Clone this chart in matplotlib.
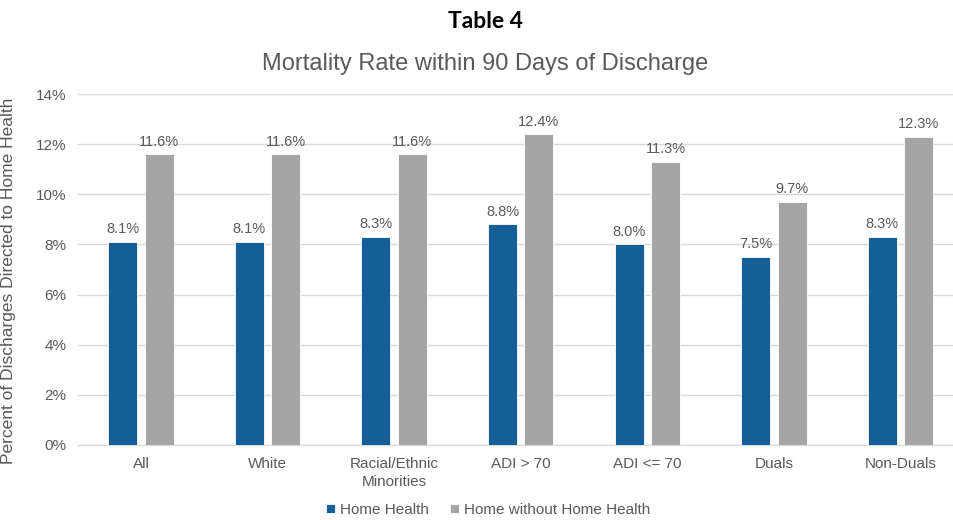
import numpy as np
import matplotlib.pyplot as plt
from matplotlib.ticker import FuncFormatter, MultipleLocator

# Mortality rate within 90 days of discharge, percent
categories = ["All", "White", "Racial/Ethnic\nMinorities", "ADI > 70",
              "ADI <= 70", "Duals", "Non-Duals"]
home_health = [8.1, 8.1, 8.3, 8.8, 8.0, 7.5, 8.3]
home_without_hh = [11.6, 11.6, 11.6, 12.4, 11.3, 9.7, 12.3]
series_names = ["Home Health", "Home without Home Health"]

BLUE = "#155F98"
GRAY = "#A5A5A5"
TEXT = "#595959"

plt.rcParams["font.family"] = ["Liberation Sans", "DejaVu Sans"]

fig = plt.figure(figsize=(9.54, 5.2), dpi=100)
# axes runs a little past the right edge, like the source sheet
ax = fig.add_axes([77.7 / 954, 75 / 520, 886 / 954, 351 / 520])

x = np.arange(len(categories))
w = 0.229
off = 0.144
b1 = ax.bar(x - off, home_health, w, color=BLUE, edgecolor="white",
            linewidth=0.6, label=series_names[0], zorder=3)
b2 = ax.bar(x + off, home_without_hh, w, color=GRAY, edgecolor="white",
            linewidth=0.6, label=series_names[1], zorder=3)

for bars, vals in ((b1, home_health), (b2, home_without_hh)):
    for rect, v in zip(bars, vals):
        ax.annotate(f"{v:.1f}%", (rect.get_x() + rect.get_width() / 2, v),
                    xytext=(0, 4), textcoords="offset points",
                    ha="center", va="bottom", fontsize=10.5, color=TEXT)

ax.set_xlim(-0.5, len(categories) - 0.5)
ax.set_ylim(0, 14)
ax.yaxis.set_major_locator(MultipleLocator(2))
ax.yaxis.set_major_formatter(FuncFormatter(lambda v, p: f"{v:.0f}%"))
ax.grid(axis="y", color="#D9D9D9", linewidth=1.0, zorder=0)
ax.set_xticks(x)
ax.set_xticklabels(categories, fontsize=11, color=TEXT, linespacing=1.3)
ax.tick_params(axis="y", length=0, labelsize=11, labelcolor=TEXT, pad=8)
ax.tick_params(axis="x", length=0, pad=9)
for s in ("top", "right", "left"):
    ax.spines[s].set_visible(False)
ax.spines["bottom"].set_color("#D9D9D9")
ax.set_axisbelow(True)

ax.set_ylabel("Percent of Discharges Directed to Home Health",
              fontsize=12.5, color=TEXT)
ax.yaxis.set_label_coords(-62 / 886, 0.467)

fig.text(485 / 954, 1 - 22 / 520, "Table 4", ha="center", va="center",
         fontsize=16.5, fontweight="bold", family=["Lato", "DejaVu Sans"])
fig.text(485 / 954, 1 - 64 / 520, "Mortality Rate within 90 Days of Discharge",
         ha="center", va="center", fontsize=17, color=TEXT)

fig.legend(handles=[b1, b2], loc="center", bbox_to_anchor=(488 / 954, 1 - 510 / 520),
           ncol=2, frameon=False, fontsize=11, labelcolor=TEXT,
           handlelength=0.6, handleheight=0.6, handletextpad=0.3,
           columnspacing=1.4)

fig.savefig("out.png", dpi=100)
